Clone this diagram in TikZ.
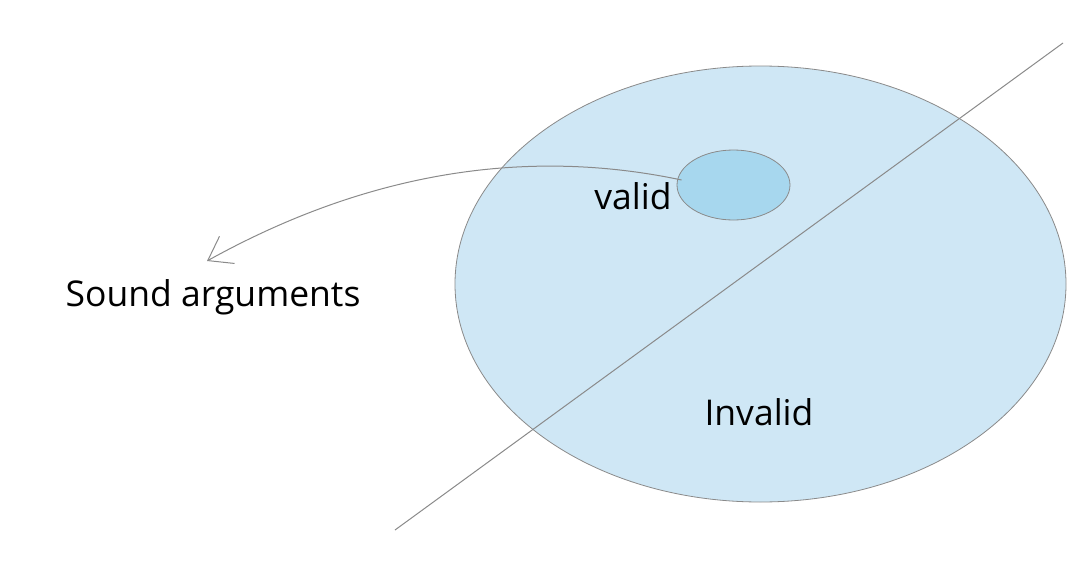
\documentclass[tikz,border=0pt]{standalone}
\usepackage{fontspec}
\setmainfont{Open Sans}
\usetikzlibrary{shapes.geometric,arrows.meta}
\definecolor{setfill}{HTML}{CFE7F5}
\definecolor{validfill}{HTML}{A7D7EE}
\definecolor{edgegray}{HTML}{8A8A8A}
\tikzset{
  setshape/.style={ellipse, draw=edgegray, line width=0.8pt, inner sep=0pt},
  label/.style={font=\fontsize{35.5}{40}\selectfont, text=black, inner sep=0pt},
  guide/.style={draw=edgegray, line width=1pt},
}
\begin{document}
\begin{tikzpicture}[x=1pt,y=-1pt]
  \useasboundingbox (0,0) rectangle (1088,565);
  % all arguments, with the valid ones inside
  \node[setshape, fill=setfill, minimum width=611pt, minimum height=436pt] (all) at (760.5,284) {};
  \node[setshape, fill=validfill, minimum width=113pt, minimum height=70pt] (valid) at (733.5,185) {};
  % dividing line
  \coordinate (lineA) at (395,530);
  \coordinate (lineB) at (1063,43);
  \draw[guide] (lineA) -- (lineB);
  % labels
  \node[label] (validtext) at (633,196) {valid};
  \node[label] (invalidtext) at (759,412) {Invalid};
  \node[label] (soundtext) at (213,297) {Sound arguments};
  % arrow pointing out to the sound arguments
  \coordinate (arrowtip) at (207,261);
  \draw[guide, -{Straight Barb[length=22pt,width=31pt]}]
    ([shift={(5,-5)}]valid.west) .. controls (540,150) and (380,165) .. (arrowtip);
\end{tikzpicture}
\end{document}
